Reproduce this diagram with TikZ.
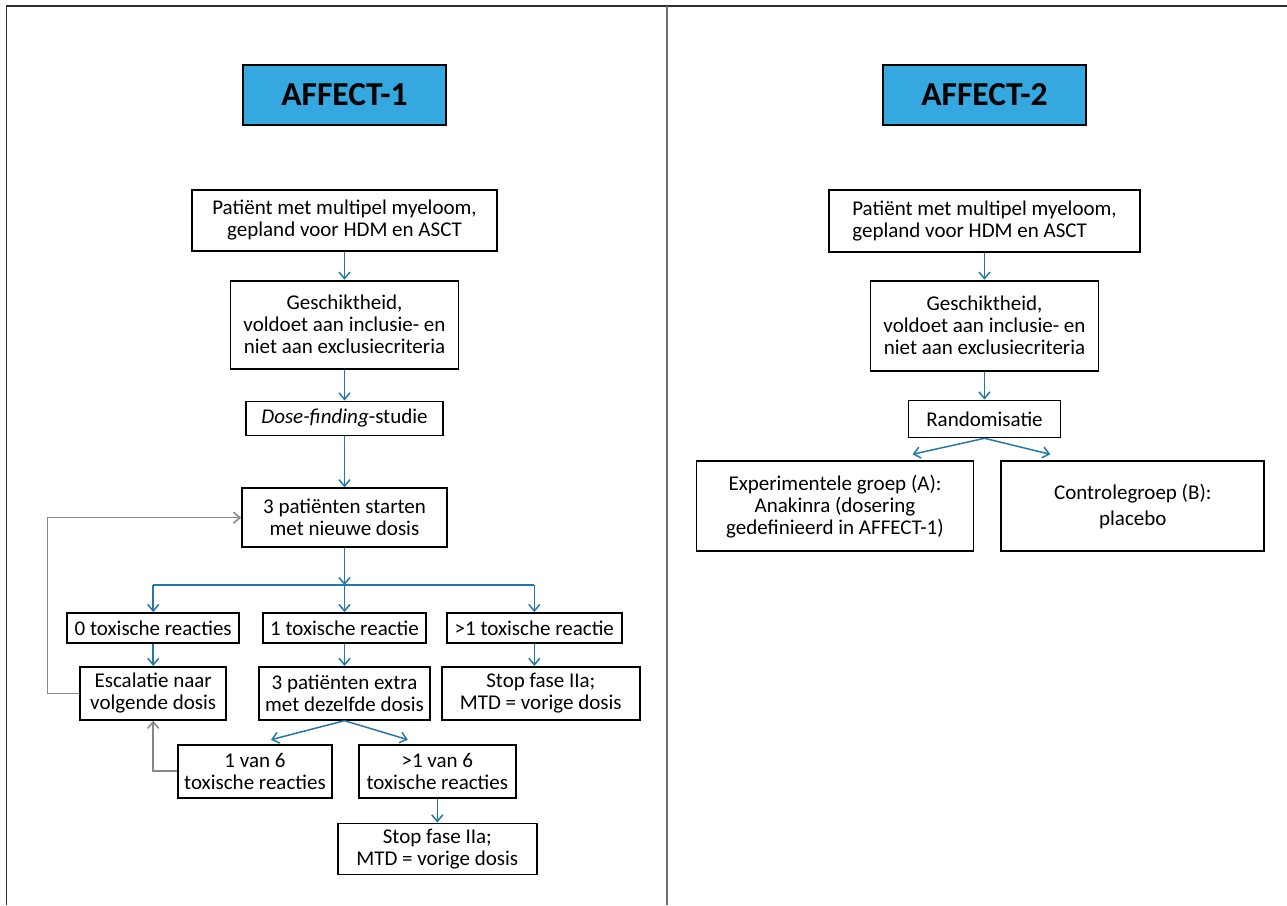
\documentclass[tikz,border=0pt]{standalone}
\usepackage{fontspec}
\setmainfont{Carlito}
\usetikzlibrary{positioning, calc, arrows.meta}
\definecolor{flowblue}{RGB}{36,120,165}
\definecolor{loopgray}{RGB}{135,135,135}
\definecolor{titleblue}{RGB}{53,168,224}
\definecolor{framegray}{RGB}{45,45,45}
\definecolor{dividergray}{RGB}{110,110,110}

\begin{document}
\begin{tikzpicture}
  \newcommand\boxfont{\fontsize{21}{22}\selectfont}
  \newcommand\titlefont{\fontsize{33.5}{36}\selectfont\bfseries}
  \newcommand\rowgap{22pt}

  \tikzset{flowbox/.style={draw, line width=1.8pt, inner sep=0pt, align=center, font=\boxfont}}
  \tikzset{boxsize/.style 2 args={minimum width=#1, minimum height=#2}}
  \tikzset{titlebox/.style={draw, line width=1.8pt, fill=titleblue, boxsize={203pt}{60pt}, font=\titlefont}}
  \tikzset{flowline/.style={draw=flowblue, line width=1.5pt}}
  \tikzset{ptr/.style={flowline, -{Straight Barb[length=6.5pt, width=11pt]}}}
  \tikzset{loopptr/.style={ptr, draw=loopgray}}
  \tikzset{frameline/.style={draw=framegray, line width=1.8pt}}

  \useasboundingbox (0pt, 0pt) rectangle (1287pt, -905pt);

  % frame
  \draw[frameline] (6.5pt, -905pt) -- (6.5pt, -6pt) -- (1287pt, -6pt);
  \draw[frameline, draw=dividergray, line width=1.5pt] (667pt, -6pt) -- (667pt, -905pt);

  % AFFECT-1
  \node[titlebox] at (344.5pt, -95pt) (a1) {AFFECT-1};
  \node[flowbox, boxsize={305pt}{61pt}, below=63pt of a1] (a1-pat) {Patiënt met multipel myeloom,\\gepland voor HDM en ASCT};
  \node[flowbox, boxsize={228pt}{88pt}, below=28pt of a1-pat] (a1-ges) {Geschiktheid,\\voldoet aan inclusie- en\\niet aan exclusiecriteria};
  \node[flowbox, boxsize={197pt}{34pt}, below=31pt of a1-ges] (a1-dose) {\textit{Dose-finding}-studie};
  \node[flowbox, boxsize={205pt}{59pt}, below=51pt of a1-dose] (a1-start) {3 patiënten starten\\met nieuwe dosis};
  \coordinate[below=37pt of a1-start] (a1-branch);

  % toxicity outcomes
  \node[flowbox, boxsize={163pt}{30pt}, below=64pt of a1-start] (a1-t1) {1 toxische reactie};
  \node[flowbox, boxsize={172pt}{30pt}, left=\rowgap of a1-t1] (a1-t0) {0 toxische reacties};
  \node[flowbox, boxsize={175pt}{30pt}, right=19pt of a1-t1] (a1-t2) {>1 toxische reactie};
  \node[flowbox, boxsize={146pt}{53pt}, below=\rowgap of a1-t0] (a1-esc) {Escalatie naar\\volgende dosis};
  \node[flowbox, boxsize={171pt}{53pt}, below=\rowgap of a1-t1] (a1-extra) {3 patiënten extra\\met dezelfde dosis};
  \node[flowbox, boxsize={198pt}{53pt}, right=10pt of a1-extra] (a1-stop1) {Stop fase IIa;\\MTD = vorige dosis};
  \node[flowbox, boxsize={154pt}{53pt}, below=23pt of a1-extra, xshift=-89.5pt] (a1-six1) {1 van 6\\toxische reacties};
  \node[flowbox, boxsize={157pt}{53pt}, right=25pt of a1-six1] (a1-six2) {>1 van 6\\toxische reacties};
  \node[flowbox, boxsize={199pt}{51pt}, below=24pt of a1-six2] (a1-stop2) {Stop fase IIa;\\MTD = vorige dosis};

  \foreach \from/\to in {pat/ges, ges/dose, dose/start, t0/esc, t1/extra, six2/stop2}{
    \draw[ptr] (a1-\from) -- (a1-\to);
  }
  \draw[ptr] (a1-start) -- (a1-branch);
  \draw[flowline] (a1-t0.north |- a1-branch) -- (a1-t2.north |- a1-branch);
  \foreach \t in {t0, t1, t2}{
    \draw[ptr] (a1-\t.north |- a1-branch) -- (a1-\t);
  }
  \draw[ptr] (a1-t2) -- (a1-t2 |- a1-stop1.north);

  \coordinate (a1-split-l) at ($(a1-six1.north)+(16pt, 4pt)$);
  \coordinate (a1-split-r) at ($(a1-six2.north)+(-29.5pt, 4pt)$);
  \draw[ptr] (a1-extra.south) -- (a1-split-l);
  \draw[ptr] (a1-extra.south) -- (a1-split-r);

  % loop back
  \draw[loopptr] (a1-esc.west) -- ++(-32pt, 0) |- (a1-start.west);
  \draw[loopptr] (a1-six1.west) -| (a1-esc.south);

  % AFFECT-2
  \node[titlebox] at (984.5pt, -95pt) (a2) {AFFECT-2};
  \node[flowbox, boxsize={311pt}{62pt}, align=left, below=63pt of a2] (a2-pat) {Patiënt met multipel myeloom,\\gepland voor HDM en ASCT};
  \node[flowbox, boxsize={228pt}{90pt}, below=27pt of a2-pat] (a2-ges) {Geschiktheid,\\voldoet aan inclusie- en\\niet aan exclusiecriteria};
  \node[flowbox, boxsize={152pt}{37pt}, below=28pt of a2-ges] (a2-rand) {Randomisatie};
  \node[flowbox, boxsize={277pt}{90pt}, below=\rowgap of a2-rand, xshift=-149.5pt] (a2-exp) {Experimentele groep (A):\\Anakinra (dosering\\gedefinieerd in AFFECT-1)};
  \node[flowbox, boxsize={263pt}{90pt}, right=26pt of a2-exp] (a2-ctrl) {Controlegroep (B):\\[4pt]placebo};

  \foreach \from/\to in {pat/ges, ges/rand}{
    \draw[ptr] (a2-\from) -- (a2-\to);
  }
  \coordinate (a2-split-l) at ($(a2-exp.north)+(77.5pt, 6pt)$);
  \coordinate (a2-split-r) at ($(a2-ctrl.north)+(-82.5pt, 6pt)$);
  \draw[ptr] (a2-rand.south) -- (a2-split-l);
  \draw[ptr] (a2-rand.south) -- (a2-split-r);
\end{tikzpicture}
\end{document}
